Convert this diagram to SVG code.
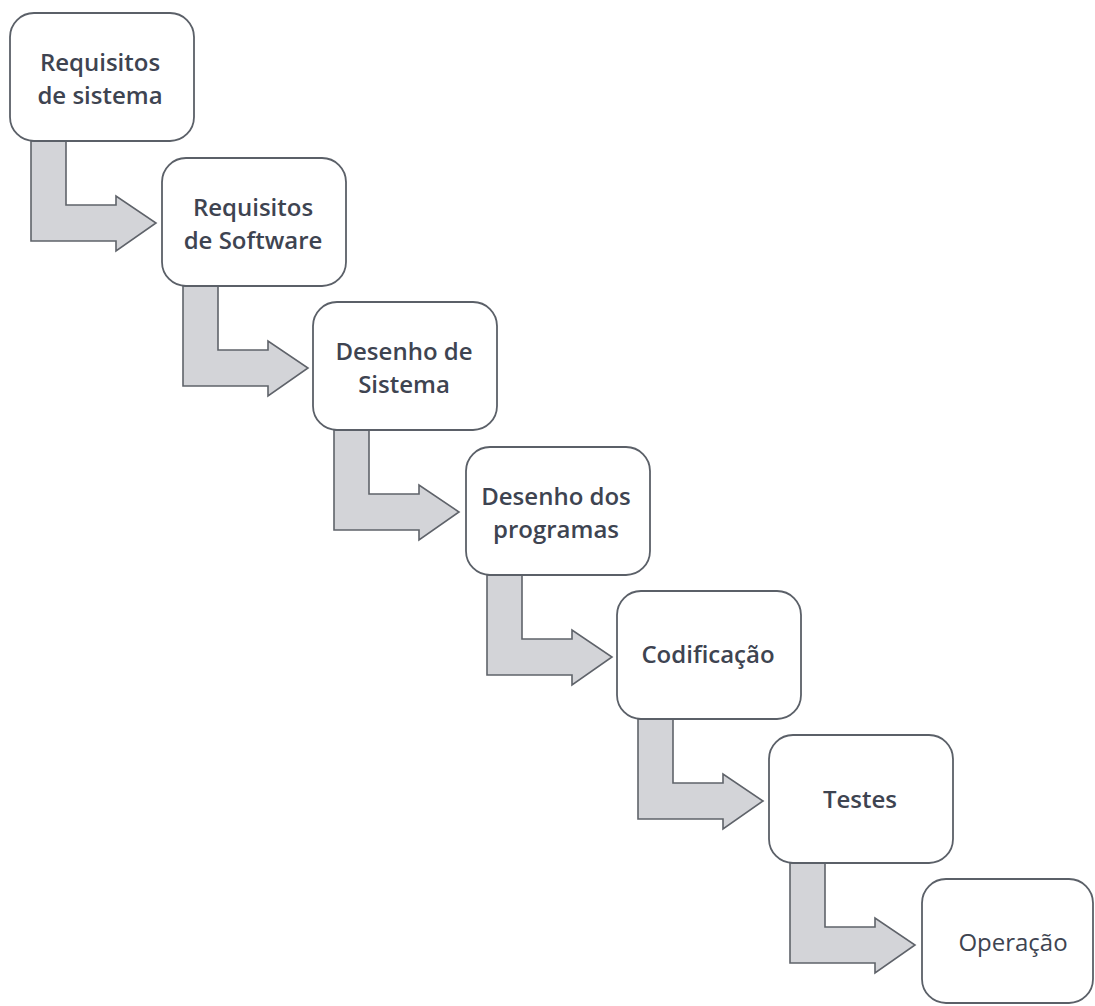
<svg xmlns="http://www.w3.org/2000/svg" width="1095" height="1006" viewBox="0 0 1095 1006">
  <style>
    .box { fill: #ffffff; stroke: #5b6068; stroke-width: 1.8; }
    .arrow { fill: #d3d4d8; stroke: #5f636a; stroke-width: 1.6; stroke-linejoin: miter; }
    .label { font-family: "Open Sans", "Noto Sans", sans-serif; font-size: 24px; font-weight: 600; fill: #3e4451; text-anchor: middle; }
    .light { font-weight: 400; }
  </style>
  <defs>
    <!-- elbow arrow: down from the bottom of a box, then right into the next one -->
    <path id="elbow" d="M21,128 L56,128 L56,192 L106,192 L106,183 L146,210 L106,238 L106,228 L21,228 Z"/>
  </defs>
  <rect width="1095" height="1006" fill="#ffffff"/>

  <g id="connectors">
    <use href="#elbow" class="arrow" transform="translate(10,13)"/>
    <use href="#elbow" class="arrow" transform="translate(162,158)"/>
    <use href="#elbow" class="arrow" transform="translate(313,302)"/>
    <use href="#elbow" class="arrow" transform="translate(466,447)"/>
    <use href="#elbow" class="arrow" transform="translate(617,591)"/>
    <use href="#elbow" class="arrow" transform="translate(769,735)"/>
  </g>

  <g id="node-requisitos-sistema">
    <rect class="box" x="10" y="13" width="184" height="128" rx="24"/>
    <text class="label" x="100" y="71">Requisitos</text>
    <text class="label" x="100" y="104">de sistema</text>
  </g>
  <g id="node-requisitos-software">
    <rect class="box" x="162" y="158" width="184" height="128" rx="24"/>
    <text class="label" x="253" y="216">Requisitos</text>
    <text class="label" x="253" y="249">de Software</text>
  </g>
  <g id="node-desenho-sistema">
    <rect class="box" x="313" y="302" width="184" height="128" rx="24"/>
    <text class="label" x="404" y="360">Desenho de</text>
    <text class="label" x="404" y="393">Sistema</text>
  </g>
  <g id="node-desenho-programas">
    <rect class="box" x="466" y="447" width="184" height="128" rx="24"/>
    <text class="label" x="556" y="505">Desenho dos</text>
    <text class="label" x="556" y="538">programas</text>
  </g>
  <g id="node-codificacao">
    <rect class="box" x="617" y="591" width="184" height="128" rx="24"/>
    <text class="label" x="708" y="663">Codificação</text>
  </g>
  <g id="node-testes">
    <rect class="box" x="769" y="735" width="184" height="128" rx="24"/>
    <text class="label" x="860" y="808">Testes</text>
  </g>
  <g id="node-operacao">
    <rect class="box" x="922" y="879" width="171" height="124" rx="24"/>
    <text class="label light" x="1013" y="951">Operação</text>
  </g>
</svg>
